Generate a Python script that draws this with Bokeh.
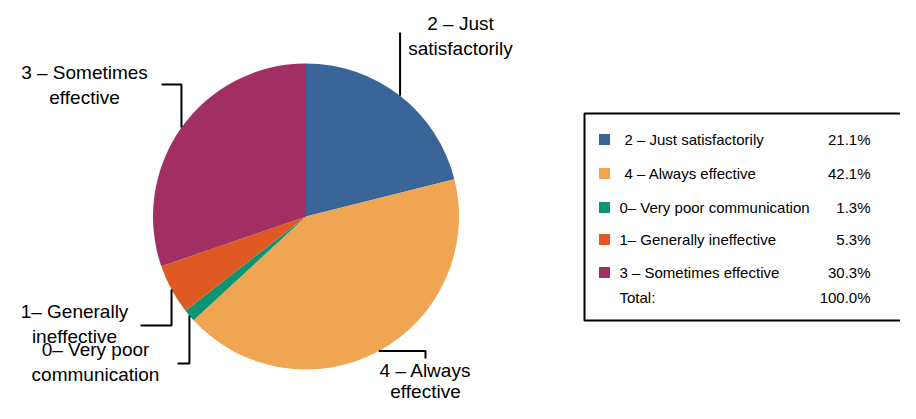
import numpy as np
from bokeh.plotting import figure
from bokeh.models import Range1d, ColumnDataSource
from bokeh.core.properties import value
from bokeh.embed import file_html
from bokeh.resources import INLINE

# ---- data ----
categories = ["2 – Just  satisfactorily", "4 – Always effective", "0– Very poor communication",
              "1– Generally ineffective", "3 – Sometimes effective"]
percents = [21.1, 42.1, 1.3, 5.3, 30.3]
colors = ["#3A6598", "#F0A552", "#0E9373", "#DF5A22", "#A12F62"]
pie_labels = [["2 – Just", "satisfactorily"], ["4 – Always", "effective"],
              ["0– Very poor", "communication"], ["1– Generally", "ineffective"],
              ["3 – Sometimes", "effective"]]
total_label = "Total:"
total_value = "100.0%"

W, H = 900, 403
FONT = "Liberation Sans"

def X(px):
    return px

def Y(py):
    return H - py

p = figure(width=W, height=H, output_backend="svg", toolbar_location=None,
           x_range=Range1d(0, W), y_range=Range1d(0, H), min_border=0)
p.axis.visible = False
p.grid.visible = False
p.outline_line_color = None
p.background_fill_color = "white"
p.border_fill_color = "white"

cx, cy, r = X(305.5), Y(216), 153
vals = np.array(percents) / sum(percents)
cum = np.concatenate([[0], np.cumsum(vals)])
start = np.pi / 2 - 2 * np.pi * cum[:-1]
end = np.pi / 2 - 2 * np.pi * cum[1:]
src = ColumnDataSource(dict(start=start, end=end, color=colors))
p.wedge(x=cx, y=cy, radius=r, start_angle="start", end_angle="end", direction="clock",
        fill_color="color", line_color=None, source=src)

# leader lines from slice mid points
mid = (start + end) / 2
ex = cx + r * np.cos(mid)
ey = cy + r * np.sin(mid)
leaders = {
    0: [(ex[0], ey[0]), (ex[0], Y(32))],
    1: [(ex[1], ey[1]), (X(425), ey[1]), (X(425), Y(358))],
    2: [(ex[2], ey[2]), (ex[2], Y(363)), (X(177), Y(363))],
    3: [(ex[3], ey[3]), (ex[3], Y(325)), (X(140), Y(325))],
    4: [(ex[4], ey[4]), (ex[4], Y(84)), (X(161), Y(84))],
}
for i, pts in leaders.items():
    xs = [q[0] for q in pts]
    ys = [q[1] for q in pts]
    p.line(xs, ys, line_color="black", line_width=2)

label_pos = {0: (460, 23, 48), 1: (425, 370, 391), 2: (95, 349, 374),
             3: (74, 311, 336), 4: (84, 72, 97)}
for i, (lx, y1, y2) in label_pos.items():
    p.text(x=[X(lx), X(lx)], y=[Y(y1), Y(y2)], text=pie_labels[i],
           text_font=value(FONT), text_font_size="19px", text_color="black",
           text_align="center", text_baseline="middle")

# legend box (open on the right: it runs past the picture's edge)
p.line([X(1200), X(584), X(584), X(1200)], [Y(113), Y(113), Y(320), Y(320)],
       line_color="black", line_width=2)
rows_y = [139, 173, 207, 239, 272]
p.rect(x=[X(604)] * 5, y=[Y(v) for v in rows_y], width=11, height=11,
       fill_color=colors, line_color=None)
text_x = [624, 624, 619, 619, 619, 619]
p.text(x=[X(v) for v in text_x], y=[Y(v) for v in rows_y] + [Y(297)],
       text=categories + [total_label],
       text_font=value(FONT), text_font_size="15px", text_color="black",
       text_align="left", text_baseline="middle")
pct_text = ["%.1f%%" % v for v in percents] + [total_value]
p.text(x=[X(870)] * 6, y=[Y(v) for v in rows_y] + [Y(297)], text=pct_text,
       text_font=value(FONT), text_font_size="15px", text_color="black",
       text_align="right", text_baseline="middle")

open("out.html", "w").write(file_html(p, INLINE))
